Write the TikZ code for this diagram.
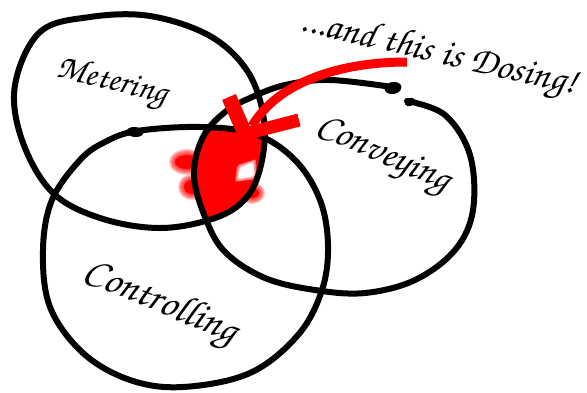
\documentclass[tikz,border=0pt]{standalone}
\usepackage[T1]{fontenc}
\usepackage{graphicx}
\newcommand{\hand}{\fontfamily{pzc}\fontseries{mb}\fontshape{it}\selectfont}
\begin{document}
\begin{tikzpicture}[x=1pt,y=-1pt,
  ring/.style={line width=6pt,line join=round,line cap=round},
  label/.style={inner sep=0pt,font=\hand},
  redpen/.style={red,line width=#1,line cap=round},
  blob/.style={fill=black}]
\useasboundingbox (0,0) rectangle (587,392);

% outlines of the three sets
\def\meterpath{plot[smooth cycle,tension=0.6] coordinates {(40,32) (90,17) (150,16) (210,36) (248,72) (264,120) (261,165) (246,198) (215,218) (160,228) (100,218) (52,192) (22,140) (15,85)}}
\def\ctrlpath{plot[smooth cycle,tension=0.6] coordinates {(137,131) (200,127) (255,134) (295,160) (320,200) (328,245) (322,290) (298,335) (250,373) (183,387) (130,380) (83,353) (50,307) (43,250) (52,200) (80,160) (105,142)}}
\def\convpath{plot[smooth cycle,tension=0.6] coordinates {(400,92) (445,115) (470,155) (473,210) (455,250) (415,280) (365,293) (315,290) (265,278) (225,252) (205,217) (194,175) (203,137) (225,112) (250,98) (285,85) (330,80) (380,84)}}

% red fill where all three sets meet
\begin{scope}
  \clip \meterpath;
  \clip \convpath;
  \fill[red] \ctrlpath;
\end{scope}
% soft smudges around it
\foreach \r in {6,5,4,3,2,1}{
  \fill[red,opacity=0.2] (187,162) ellipse [x radius=12pt+\r pt,y radius=7pt+\r pt];
  \fill[red,opacity=0.2] (192,187) ellipse [x radius=8pt+\r pt,y radius=7pt+\r pt];
  \fill[red,opacity=0.2] (252,193) ellipse [x radius=7pt+\r pt,y radius=5pt+\r pt];
}
\fill[red] (187,162) ellipse [x radius=12pt,y radius=7pt];
\fill[red] (192,187) ellipse [x radius=8pt,y radius=7pt];
\fill[red] (252,193) ellipse [x radius=7pt,y radius=5pt];
\foreach \r in {3,2,1}{
  \fill[white,opacity=0.35,rounded corners=2pt] (240-\r,168-\r) -- (253+\r,162-\r) -- (254+\r,176+\r) -- (238-\r,179+\r) -- cycle;
}
\fill[white,rounded corners=2pt] (240,168) -- (253,162) -- (254,176) -- (238,179) -- cycle;

% the three sets
\draw[ring] \meterpath;
\draw[ring] \ctrlpath;
\draw[ring] plot[smooth,tension=0.6] coordinates {(407,101) (445,115) (470,155) (473,210) (455,250) (415,280) (365,293) (315,290) (265,278) (225,252) (205,217) (194,175) (203,137) (225,112) (250,98) (285,85) (330,80) (392,87)};
\fill[blob,rotate around={10:(393,88)}] (393,88) ellipse [x radius=8.5pt,y radius=6pt];
\fill[blob,rotate around={25:(410,102)}] (410,102) ellipse [x radius=5.5pt,y radius=4pt];
\fill[blob,rotate around={-5:(135,132)}] (135,132) ellipse [x radius=8.5pt,y radius=5pt];

% labels
\node[label,rotate=-14] (met) at (112,83) {\resizebox{113pt}{!}{Metering}};
\node[label,rotate=-23] (ctl) at (160,304) {\resizebox{163pt}{!}{Controlling}};
\node[label,rotate=-24] (cnv) at (382,157) {\resizebox{143pt}{!}{Conveying}};
\node[label,rotate=-13] (dos) at (438,55) {\resizebox{282pt}{!}{...and this is Dosing!}};

% red arrow into the common part
\coordinate (tail) at (407,62);
\coordinate (tip) at (245,134);
\draw[redpen=9pt,line cap=butt] (tail) .. controls (340,62) and (278,82) .. (252,126);
\draw[redpen=15pt,line cap=butt] (229,97) -- (tip);
\draw[redpen=13pt,line cap=butt] (299,120) -- (tip);
\end{tikzpicture}
\end{document}
